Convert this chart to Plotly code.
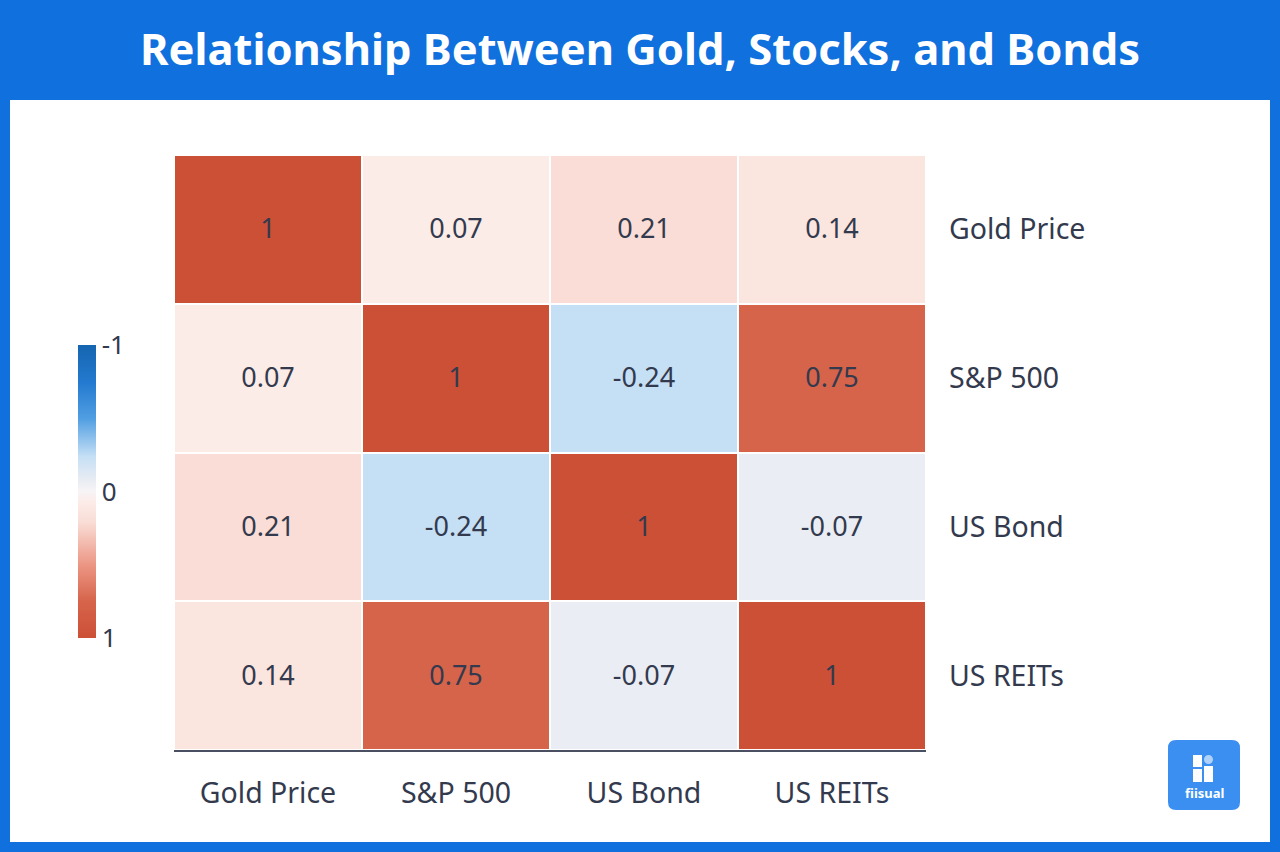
import plotly.graph_objects as go

assets = ["Gold Price", "S&P 500", "US Bond", "US REITs"]
corr = [
    [1.00, 0.07, 0.21, 0.14],
    [0.07, 1.00, -0.24, 0.75],
    [0.21, -0.24, 1.00, -0.07],
    [0.14, 0.75, -0.07, 1.00],
]
cbar_vals = [-1, 0, 1]
cbar_labels = ["-1", "0", "1"]
title_text = "Relationship Between Gold, Stocks, and Bonds"

FONT = "Noto Sans"
TXT = "#333a4e"
BLUE = "rgb(16,112,221)"

# plot inverted values so colorbar shows -1 at top (blue) and 1 at bottom (red)
z_plot = [[-v for v in row] for row in corr]
text = [[f"{v:g}" for v in row] for row in corr]

colorscale = [
    [0.0, "rgb(204,80,54)"],
    [0.125, "rgb(214,100,75)"],
    [0.25, "rgb(236,150,132)"],
    [0.395, "rgb(249,221,214)"],
    [0.465, "rgb(252,236,232)"],
    [0.5, "rgb(247,244,246)"],
    [0.535, "rgb(234,237,243)"],
    [0.62, "rgb(197,223,245)"],
    [0.75, "rgb(80,158,226)"],
    [0.87, "rgb(36,122,208)"],
    [1.0, "rgb(21,101,176)"],
]

fig = go.Figure(
    go.Heatmap(
        z=z_plot,
        x=assets,
        y=assets,
        text=text,
        texttemplate="%{text}",
        textfont=dict(family=FONT, size=27, color=TXT),
        colorscale=colorscale,
        zmin=-1,
        zmax=1,
        xgap=2,
        ygap=2,
        hoverinfo="skip",
        colorbar=dict(
            x=(78 - 174) / 752,
            xanchor="left",
            y=(750 - 491.5) / 595,
            yanchor="middle",
            len=293 / 595,
            lenmode="fraction",
            thickness=18,
            outlinewidth=0,
            tickvals=[-v for v in cbar_vals],
            ticktext=cbar_labels,
            ticks="",
            tickfont=dict(family=FONT, size=26, color=TXT),
            ypad=0,
            xpad=0,
        ),
    )
)

# white content panel inside blue frame
fig.add_shape(
    type="rect", xref="paper", yref="paper",
    x0=(10 - 174) / 752, x1=(1270 - 174) / 752,
    y0=(750 - 842) / 595, y1=(750 - 100) / 595,
    fillcolor="white", line_width=0, layer="below",
)

# logo
lx0, lx1, ly0, ly1 = 1168, 1240, 740, 810
def px(x):
    return (x - 174) / 752
def py(y):
    return (750 - y) / 595
r = 8
path = (
    f"M {px(lx0 + r)} {py(ly0)} L {px(lx1 - r)} {py(ly0)} "
    f"Q {px(lx1)} {py(ly0)} {px(lx1)} {py(ly0 + r)} "
    f"L {px(lx1)} {py(ly1 - r)} Q {px(lx1)} {py(ly1)} {px(lx1 - r)} {py(ly1)} "
    f"L {px(lx0 + r)} {py(ly1)} Q {px(lx0)} {py(ly1)} {px(lx0)} {py(ly1 - r)} "
    f"L {px(lx0)} {py(ly0 + r)} Q {px(lx0)} {py(ly0)} {px(lx0 + r)} {py(ly0)} Z"
)
fig.add_shape(type="path", xref="paper", yref="paper", path=path,
              fillcolor="rgb(59,143,240)", line_width=0)
fig.add_shape(type="rect", xref="paper", yref="paper",
              x0=px(1193), x1=px(1202), y0=py(767), y1=py(755),
              fillcolor="white", line_width=0)
fig.add_shape(type="rect", xref="paper", yref="paper",
              x0=px(1193), x1=px(1202), y0=py(782), y1=py(769),
              fillcolor="white", line_width=0)
fig.add_shape(type="rect", xref="paper", yref="paper",
              x0=px(1204), x1=px(1213), y0=py(782), y1=py(766),
              fillcolor="white", line_width=0)
fig.add_shape(type="circle", xref="paper", yref="paper",
              x0=px(1204), x1=px(1213), y0=py(764), y1=py(755),
              fillcolor="rgba(255,255,255,0.6)", line_width=0)
fig.add_annotation(
    x=px(1204), y=py(793), xref="paper", yref="paper",
    text="<b>fiisual</b>", showarrow=False,
    font=dict(family=FONT, size=13, color="white"),
    xanchor="center", yanchor="middle",
)

fig.update_layout(
    width=1280,
    height=852,
    paper_bgcolor=BLUE,
    plot_bgcolor="white",
    margin=dict(l=174, r=354, t=155, b=102),
    title=dict(
        text=f"<b>{title_text}</b>",
        x=0.5, xref="container", xanchor="center",
        y=1 - 50 / 852, yref="container", yanchor="middle",
        font=dict(family=FONT, size=43.5, color="white"),
    ),
    xaxis=dict(
        side="bottom",
        showgrid=False,
        zeroline=False,
        showline=True,
        linecolor="#4a5062",
        linewidth=2,
        ticks="",
        ticklabelstandoff=17,
        tickfont=dict(family=FONT, size=28.5, color=TXT),
    ),
    yaxis=dict(
        side="right",
        autorange="reversed",
        showgrid=False,
        zeroline=False,
        showline=False,
        ticks="",
        ticklabelstandoff=22,
        tickfont=dict(family=FONT, size=28.5, color=TXT),
    ),
)

fig.write_html(
    "out.html",
    config={"displayModeBar": False},
    post_script="document.body.style.margin='0';document.body.style.padding='0';",
)
